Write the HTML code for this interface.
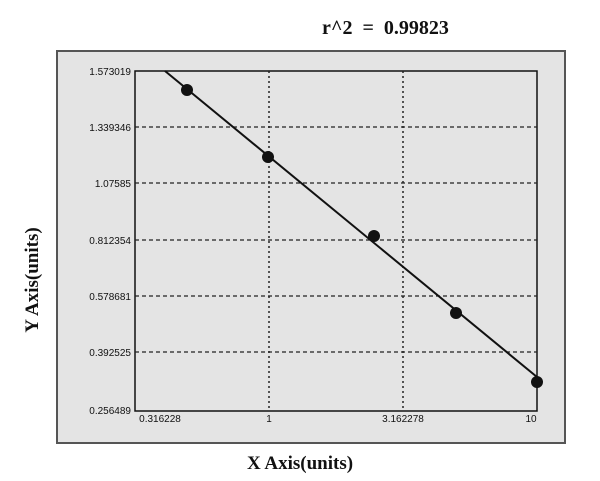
<!DOCTYPE html>
<html><head><style>
body{margin:0;background:#fff;width:600px;height:476px;overflow:hidden}
</style></head><body>
<svg width="600" height="476" xmlns="http://www.w3.org/2000/svg">
<rect x="0" y="0" width="600" height="476" fill="#fff"/>
<text x="322" y="34" font-family="Liberation Serif, serif" font-weight="bold" font-size="20" fill="#111">r^2&#160;&#160;=&#160;&#160;0.99823</text>
<rect x="57" y="51" width="508" height="392" fill="#e4e4e4" stroke="#555" stroke-width="2"/>
<rect x="135" y="71" width="402" height="340" fill="#e4e4e4" stroke="#111" stroke-width="1.5"/>
<g stroke="#222" stroke-width="1.2" stroke-dasharray="4,3">
<line x1="135" y1="127" x2="537" y2="127"/>
<line x1="135" y1="183" x2="537" y2="183"/>
<line x1="135" y1="240" x2="537" y2="240"/>
<line x1="135" y1="296" x2="537" y2="296"/>
<line x1="135" y1="352" x2="537" y2="352"/>
</g>
<g stroke="#222" stroke-width="1.5" stroke-dasharray="2,3">
<line x1="269" y1="71" x2="269" y2="411"/>
<line x1="403" y1="71" x2="403" y2="411"/>
</g>
<g font-family="Liberation Sans, sans-serif" font-size="10" fill="#111" text-anchor="end">
<text x="131" y="75">1.573019</text>
<text x="131" y="131">1.339346</text>
<text x="131" y="187">1.07585</text>
<text x="131" y="244">0.812354</text>
<text x="131" y="300">0.578681</text>
<text x="131" y="356">0.392525</text>
<text x="131" y="414">0.256489</text>
</g>
<g font-family="Liberation Sans, sans-serif" font-size="10" fill="#111" text-anchor="middle">
<text x="160" y="422">0.316228</text>
<text x="269" y="422">1</text>
<text x="403" y="422">3.162278</text>
<text x="531" y="422">10</text>
</g>
<line x1="165" y1="71" x2="537" y2="377" stroke="#111" stroke-width="2"/>
<g fill="#111">
<circle cx="187" cy="90" r="6"/>
<circle cx="268" cy="157" r="6"/>
<circle cx="374" cy="236" r="6"/>
<circle cx="456" cy="313" r="6"/>
<circle cx="537" cy="382" r="6"/>
</g>
<text x="300" y="469" text-anchor="middle" font-family="Liberation Serif, serif" font-weight="bold" font-size="19" fill="#111">X Axis(units)</text>
<text transform="translate(38,280) rotate(-90)" text-anchor="middle" font-family="Liberation Serif, serif" font-weight="bold" font-size="19" fill="#111">Y Axis(units)</text>
</svg>
</body></html>
